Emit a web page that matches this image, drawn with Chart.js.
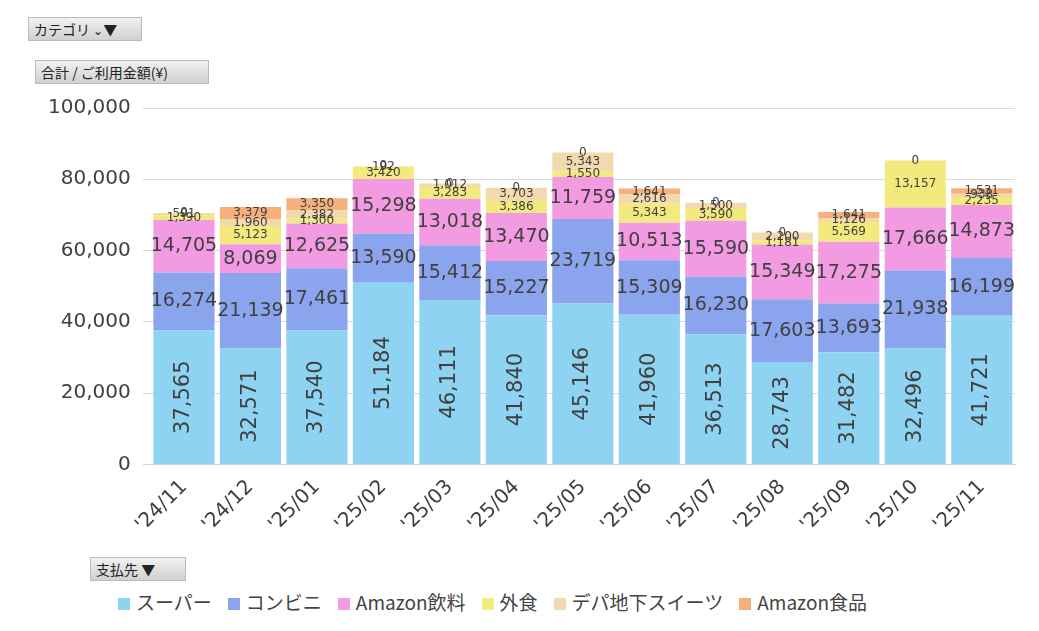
<!DOCTYPE html>
<html><head><meta charset="utf-8">
<script src="https://cdn.jsdelivr.net/npm/chart.js@4/dist/chart.umd.min.js"></script>
<style>
body{margin:0;background:#fff;font-family:"DejaVu Sans","Noto Sans CJK JP",sans-serif;}
.btn{position:absolute;background:linear-gradient(#f2f2f2,#d0d0d0);border:1px solid #bbb;font-size:14px;color:#222;padding:1px 5px;height:20px;line-height:20px;font-family:"Noto Sans CJK JP",sans-serif;}
#wrap{position:absolute;left:0;top:80px;width:1039px;height:460px;}
#legend{position:absolute;left:118px;top:588px;font-size:19px;color:#444;font-family:"Noto Sans CJK JP",sans-serif;display:flex;gap:16px;}
#legend span i{display:inline-block;width:12px;height:12px;margin-right:6px;vertical-align:0px;}
</style></head><body>
<div class="btn" style="left:28px;top:17px;width:102px;">カテゴリ <small>⌄</small>▼</div>
<div class="btn" style="left:35px;top:60px;width:162px;">合計 / ご利用金額(¥)</div>
<div class="btn" style="left:90px;top:557px;width:84px;">支払先 ▼</div>
<div id="wrap"><canvas id="chart"></canvas></div>
<div id="legend"></div>
<script>
const months = ["'24/11","'24/12","'25/01","'25/02","'25/03","'25/04","'25/05","'25/06","'25/07","'25/08","'25/09","'25/10","'25/11"];
const supermarket = [37565,32571,37540,51184,46111,41840,45146,41960,36513,28743,31482,32496,41721];
const konbini = [16274,21139,17461,13590,15412,15227,23719,15309,16230,17603,13693,21938,16199];
const amazonDrinks = [14705,8069,12625,15298,13018,13470,11759,10513,15590,15349,17275,17666,14873];
const diningOut = [1390,5123,1300,3420,3283,3386,1550,5343,3590,1181,5569,13157,2235];
const depachika = [591,1960,2382,192,1012,3703,5343,2616,1500,2200,1126,0,938];
const amazonFood = [0,3379,3350,0,0,0,0,1641,0,0,1641,null,1531];

const series = [
  ['スーパー', supermarket, '#8ed4f2'],
  ['コンビニ', konbini, '#8aa5ee'],
  ['Amazon飲料', amazonDrinks, '#f29be3'],
  ['外食', diningOut, '#f3ea7f'],
  ['デパ地下スイーツ', depachika, '#f3d9ae'],
  ['Amazon食品', amazonFood, '#f5b07b']
];

document.getElementById('legend').innerHTML = series.map(s => `<span><i style="background:${s[2]}"></i>${s[0]}</span>`).join('');

const labelPlugin = {
  id: 'segLabels',
  afterDatasetsDraw(chart) {
    const ctx = chart.ctx;
    ctx.save();
    ctx.fillStyle = '#404040';
    ctx.textAlign = 'center';
    ctx.textBaseline = 'middle';
    chart.data.datasets.forEach((ds, di) => {
      chart.getDatasetMeta(di).data.forEach((bar, i) => {
        const v = ds.data[i];
        if (v === null || v === undefined) return;
        const txt = v.toLocaleString('en-US');
        const y = (bar.y + bar.base) / 2;
        if (di === 0) {
          ctx.font = '21px "DejaVu Sans"';
          ctx.save();
          ctx.translate(bar.x, y);
          ctx.rotate(-Math.PI / 2);
          ctx.fillText(txt, 0, 0);
          ctx.restore();
        } else {
          ctx.font = di < 3 ? '19px "DejaVu Sans"' : '12px "DejaVu Sans"';
          ctx.fillText(txt, bar.x, y);
        }
      });
    });
    ctx.restore();
  }
};

new Chart(document.getElementById('chart'), {
  type: 'bar',
  data: {
    labels: months,
    datasets: series.map(s => ({ label: s[0], data: s[1], backgroundColor: s[2], barPercentage: 0.92, categoryPercentage: 1 }))
  },
  options: {
    responsive: true,
    maintainAspectRatio: false,
    animation: false,
    layout: { padding: { left: 36, right: 24, top: 28, bottom: 0 } },
    plugins: { legend: { display: false }, tooltip: { enabled: false } },
    scales: {
      x: {
        stacked: true,
        grid: { display: false },
        border: { color: '#d0d0d0' },
        ticks: { color: '#404040', font: { size: 20, family: 'DejaVu Sans' }, maxRotation: 45, minRotation: 45 }
      },
      y: {
        stacked: true,
        min: 0, max: 100000,
        grid: { color: '#d9d9d9' },
        border: { display: false },
        ticks: { stepSize: 20000, color: '#404040', padding: 12, font: { size: 20, family: 'DejaVu Sans' }, callback: v => v.toLocaleString('en-US') }
      }
    }
  },
  plugins: [labelPlugin]
});
</script>
</body></html>
